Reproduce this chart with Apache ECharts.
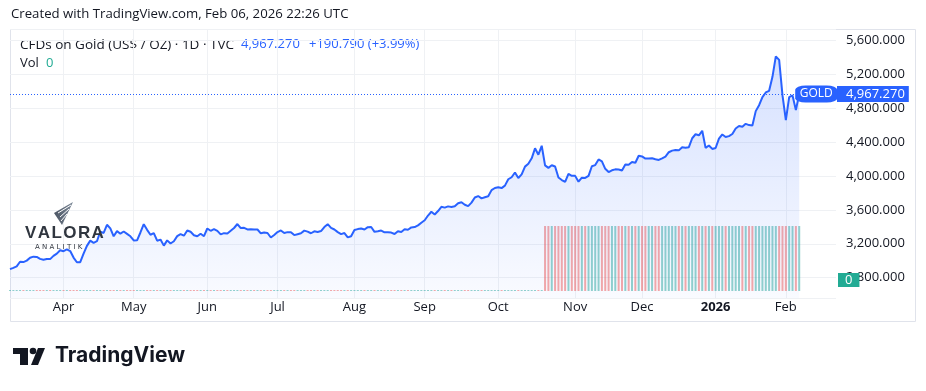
<!DOCTYPE html>
<html>
<head>
<meta charset="utf-8">
<script src="https://cdn.jsdelivr.net/npm/echarts@6/dist/echarts.min.js"></script>
<style>html,body{margin:0;padding:0;background:#fff}#c{width:926px;height:391px}</style>
</head>
<body>
<div id="c"></div>
<script>
// ---- data (daily closes, CFDs on Gold) ----
const priceMar = [2900, 2916, 2934, 2988, 2984, 3001, 3035, 3048, 3044, 3022, 3011, 3020, 3019, 3057, 3084, 3124];
const priceApr = [3112, 3134, 3114, 3037, 2982, 2982, 3083, 3175, 3237, 3211, 3230, 3343, 3327, 3424, 3381, 3288, 3349, 3319, 3345, 3317, 3288];
const priceMay = [3239, 3241, 3333, 3431, 3364, 3306, 3325, 3236, 3249, 3178, 3240, 3203, 3230, 3290, 3314, 3295, 3357, 3342, 3301, 3288, 3318, 3289];
const priceJun = [3380, 3353, 3373, 3352, 3310, 3325, 3322, 3354, 3386, 3433, 3385, 3388, 3369, 3370, 3368, 3368, 3323, 3332, 3327, 3274, 3303];
const priceJul = [3338, 3357, 3326, 3337, 3336, 3302, 3313, 3324, 3355, 3343, 3324, 3347, 3338, 3350, 3397, 3431, 3387, 3368, 3337, 3314, 3326, 3275, 3289];
const priceAug = [3363, 3373, 3380, 3368, 3396, 3398, 3341, 3348, 3356, 3335, 3336, 3332, 3315, 3347, 3339, 3371, 3365, 3393, 3397, 3417, 3448];
const priceSep = [3477, 3533, 3578, 3545, 3586, 3636, 3626, 3641, 3634, 3643, 3679, 3690, 3660, 3644, 3685, 3746, 3763, 3736, 3749, 3760, 3833, 3858];
const priceOct = [3866, 3857, 3886, 3961, 3985, 4041, 3976, 4018, 4110, 4143, 4208, 4326, 4251, 4356, 4125, 4095, 4126, 4111, 3981, 3952, 3930, 4024, 4002];
const priceNov = [4001, 3932, 3980, 3977, 4001, 4115, 4128, 4195, 4172, 4084, 4046, 4067, 4078, 4077, 4065, 4136, 4131, 4164, 4156, 4239];
const priceDec = [4230, 4205, 4205, 4208, 4197, 4189, 4208, 4228, 4280, 4299, 4305, 4302, 4339, 4333, 4340, 4445, 4492, 4480, 4533, 4332, 4360, 4319];
const priceJan = [4330, 4440, 4490, 4460, 4470, 4495, 4560, 4590, 4580, 4615, 4600, 4595, 4765, 4835, 4930, 4985, 5005, 5170, 5410, 5370, 4950];
const priceFeb = [4660, 4930, 4950, 4776.48, 4967.27];

const volMar = [0,0,0,0,0,0,0,0,0,0,0,0,0,0,0,0];
const volApr = [0,0,0,0,0,0,0,0,0,0,0,0,0,0,0,0,0,0,0,0,0];
const volMay = [0,0,0,0,0,0,0,0,0,0,0,0,0,0,0,0,0,0,0,0,0,0];
const volJun = [0,0,0,0,0,0,0,0,0,0,0,0,0,0,0,0,0,0,0,0,0];
const volJul = [0,0,0,0,0,0,0,0,0,0,0,0,0,0,0,0,0,0,0,0,0,0,0];
const volAug = [0,0,0,0,0,0,0,0,0,0,0,0,0,0,0,0,0,0,0,0,0];
const volSep = [0,0,0,0,0,0,0,0,0,0,0,0,0,0,0,0,0,0,0,0,0,0];
const volOct = [0,0,0,0,0,0,0,0,0,0,0,0,0,0,1,1,1,1,1,1,1,1,1];
const volNov = [1,1,1,1,1,1,1,1,1,1,1,1,1,1,1,1,1,1,1,1];
const volDec = [1,1,1,1,1,1,1,1,1,1,1,1,1,1,1,1,1,1,1,1,1,1];
const volJan = [1,1,1,1,1,1,1,1,1,1,1,1,1,1,1,1,1,1,1,1,1];
const volFeb = [1,1,1,1,1];
const volLast = 0;

const firstDate = '2025-03-10';
const lastDate = '2026-02-06';
const holidays = ['2025-04-18', '2025-12-25', '2026-01-01'];
const futureDays = 11;
const monthNames = ['Jan','Feb','Mar','Apr','May','Jun','Jul','Aug','Sep','Oct','Nov','Dec'];
const priceMin = 2560, priceMax = 5734, priceStep = 400;
const symbolName = 'GOLD';
const headerText = 'Created with TradingView.com, Feb 06, 2026 22:26 UTC';
const titleText = 'CFDs on Gold (US$ / OZ) · 1D · TVC';

// ---- build ----
const price = [].concat(priceMar, priceApr, priceMay, priceJun, priceJul, priceAug, priceSep, priceOct, priceNov, priceDec, priceJan, priceFeb);
const volume = [].concat(volMar, volApr, volMay, volJun, volJul, volAug, volSep, volOct, volNov, volDec, volJan, volFeb);

const dates = [];
(function () {
  const d = new Date(firstDate + 'T00:00:00Z');
  let extra = 0, pastEnd = false;
  while (true) {
    const s = d.toISOString().slice(0, 10);
    const wd = d.getUTCDay();
    if (wd !== 0 && wd !== 6 && holidays.indexOf(s) < 0) {
      dates.push(s);
      if (pastEnd) { extra++; if (extra >= futureDays) break; }
    }
    if (s === lastDate) pastEnd = true;
    d.setUTCDate(d.getUTCDate() + 1);
  }
})();

const lastIdx = price.length - 1;
const lastPrice = price[lastIdx];
const prevPrice = price[lastIdx - 1];
const chg = lastPrice - prevPrice;
const fmt3 = v => v.toLocaleString('en-US', {minimumFractionDigits: 3, maximumFractionDigits: 3});
const chgText = (chg >= 0 ? '+' : '') + fmt3(chg) + ' (' + (chg >= 0 ? '+' : '') + (chg / prevPrice * 100).toFixed(2) + '%)';

const UP = 'rgba(38,166,154,0.5)', DOWN = 'rgba(239,83,80,0.5)';
const volData = volume.map((v, i) => ({
  value: v,
  itemStyle: {color: (i === 0 || price[i] >= price[i - 1]) ? UP : DOWN}
}));

const isMonthStart = (idx) => idx > 0 && dates[idx] && dates[idx].slice(0, 7) !== dates[idx - 1].slice(0, 7);
const FONT = '"Open Sans", "Noto Sans", sans-serif';
const F13 = '13px ' + FONT;
const TXT = '#131722';
const BLUE = '#2962ff';

const chart = echarts.init(document.getElementById('c'), null, {renderer: 'canvas'});
chart.setOption({
  animation: false,
  backgroundColor: '#ffffff',
  textStyle: {fontFamily: FONT},
  grid: [
    {left: 10, right: 90, top: 29, bottom: 93},
    {left: 10, right: 90, top: 226, bottom: 100}
  ],
  xAxis: [
    {
      type: 'category', gridIndex: 0, data: dates, boundaryGap: false,
      axisLine: {show: false}, axisTick: {show: false},
      axisLabel: {
        interval: isMonthStart, color: TXT, fontSize: 13, margin: 3, fontFamily: FONT,
        formatter: (v) => {
          const m = +v.slice(5, 7);
          return m === 1 ? '{y|' + v.slice(0, 4) + '}' : monthNames[m - 1];
        },
        rich: {y: {fontWeight: 'bold', fontSize: 13, color: TXT, fontFamily: FONT}}
      },
      splitLine: {show: true, interval: isMonthStart, lineStyle: {color: '#eff1f4', width: 1}}
    },
    {type: 'category', gridIndex: 1, data: dates, boundaryGap: false, show: false}
  ],
  yAxis: [
    {
      type: 'value', gridIndex: 0, position: 'right', min: priceMin, max: priceMax,
      minInterval: priceStep, maxInterval: priceStep,
      axisLine: {show: false}, axisTick: {show: false},
      axisLabel: {showMinLabel: false, showMaxLabel: false, color: TXT, fontSize: 13, margin: 10, fontFamily: FONT, formatter: fmt3},
      splitLine: {lineStyle: {color: '#eff1f4', width: 1}}
    },
    {type: 'value', gridIndex: 1, min: 0, max: 1, show: false}
  ],
  series: [
    {
      name: 'Vol', type: 'bar', xAxisIndex: 1, yAxisIndex: 1, data: volData,
      barWidth: 2, barMinHeight: 1, silent: true, z: 1
    },
    {
      name: symbolName, type: 'line', xAxisIndex: 0, yAxisIndex: 0, data: price,
      symbol: 'none', clip: false, z: 3, silent: true,
      lineStyle: {color: BLUE, width: 2},
      itemStyle: {color: BLUE},
      areaStyle: {
        origin: 'start',
        color: new echarts.graphic.LinearGradient(0, 0, 0, 1, [
          {offset: 0, color: 'rgba(41,98,255,0.28)'},
          {offset: 1, color: 'rgba(41,98,255,0.04)'}
        ])
      },
      markLine: {
        silent: true, symbol: ['none', 'none'], animation: false,
        lineStyle: {color: BLUE, type: [1, 2], width: 1},
        label: {
          show: true, position: 'end', distance: 1, formatter: fmt3(lastPrice),
          color: '#fff', backgroundColor: BLUE, fontSize: 13, fontFamily: FONT,
          padding: [2, 4, 1, 9]
        },
        data: [{yAxis: lastPrice}]
      },
      markPoint: {
        silent: true, z: 10, symbol: 'roundRect', symbolSize: [42, 17], symbolOffset: [17, 0],
        itemStyle: {color: BLUE},
        label: {show: true, position: 'inside', formatter: symbolName, color: '#fff', fontSize: 12, fontFamily: FONT},
        data: [{coord: [dates[lastIdx], lastPrice]}]
      }
    }
  ],
  graphic: [
    {type: 'rect', silent: true, z: 0, shape: {x: 10.5, y: 29.5, width: 905, height: 292},
      style: {fill: 'none', stroke: '#e0e3eb', lineWidth: 1}},
    {type: 'text', silent: true, x: 11, y: 8,
      style: {text: headerText, fill: TXT, font: '13.2px ' + FONT}},
    {type: 'text', silent: true, x: 20, y: 38,
      style: {text: titleText, fill: TXT, font: '13.5px ' + FONT}},
    {type: 'text', silent: true, x: 241, y: 38,
      style: {text: fmt3(lastPrice), fill: BLUE, font: F13}},
    {type: 'text', silent: true, x: 309, y: 38,
      style: {text: chgText, fill: BLUE, font: F13}},
    {type: 'text', silent: true, x: 20, y: 57,
      style: {text: 'Vol', fill: TXT, font: F13}},
    {type: 'text', silent: true, x: 46, y: 57,
      style: {text: String(volLast), fill: '#22ab94', font: F13}},
    {type: 'text', silent: true, z: 20, x: 838, y: 273,
      style: {text: String(volLast), fill: '#fff', font: F13, backgroundColor: '#22ab94', padding: [1, 7, 0, 7]}},
    // VALORA ANALITIK watermark
    {type: 'polygon', silent: true, z: 50,
      shape: {points: [[73, 202], [54, 213], [62, 225]]},
      style: {fill: new echarts.graphic.LinearGradient(0, 0, 1, 0, [{offset: 0, color: '#4b5563'}, {offset: 1, color: '#7b8797'}])}},
    {type: 'polyline', silent: true, z: 51, shape: {points: [[58, 213], [71, 205]]}, style: {stroke: '#fff', lineWidth: 1}},
    {type: 'polyline', silent: true, z: 51, shape: {points: [[60, 217], [69, 209]]}, style: {stroke: '#fff', lineWidth: 1}},
    {type: 'polyline', silent: true, z: 51, shape: {points: [[61, 221], [67, 214]]}, style: {stroke: '#fff', lineWidth: 1}},
    {type: 'text', silent: true, z: 50, x: 25, y: 225,
      style: {text: 'V\u200AA\u200AL\u200AO\u200AR\u200AA', fill: '#30363f', font: 'bold 17px "Liberation Sans", sans-serif'}},
    {type: 'text', silent: true, z: 50, x: 35, y: 244,
      style: {text: 'A N A L I T I K', fill: '#30363f', font: '7px "DejaVu Sans", sans-serif'}},
    // TradingView logo
    {type: 'rect', silent: true, shape: {x: 13, y: 348, width: 15, height: 6}, style: {fill: TXT}},
    {type: 'rect', silent: true, shape: {x: 20, y: 348, width: 8, height: 17}, style: {fill: TXT}},
    {type: 'circle', silent: true, shape: {cx: 33, cy: 351, r: 3.3}, style: {fill: TXT}},
    {type: 'polygon', silent: true, shape: {points: [[38, 348], [45, 348], [38, 365], [31, 365]]}, style: {fill: TXT}},
    {type: 'text', silent: true, x: 55, y: 345,
      style: {text: 'TradingView', fill: TXT, font: 'bold 21px Inter, Roboto, sans-serif'}}
  ]
});
</script>
</body>
</html>
